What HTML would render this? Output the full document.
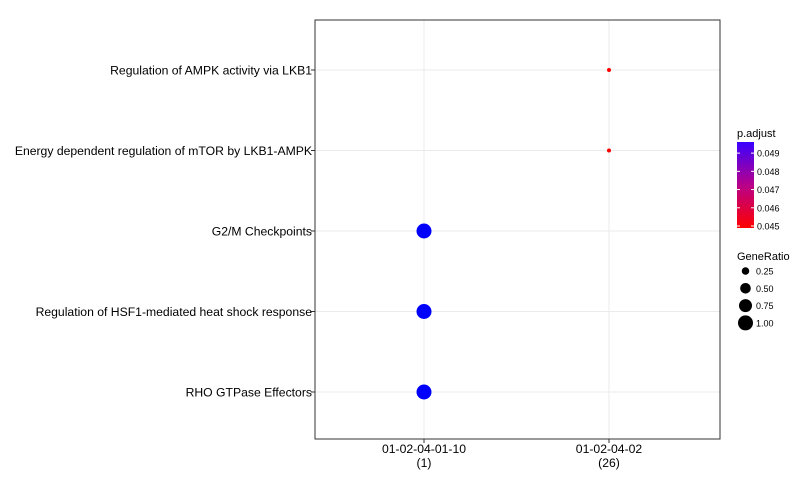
<!DOCTYPE html>
<html><head><meta charset="utf-8"><style>
body{margin:0;background:#fff;}
svg{display:block;font-family:"Liberation Sans",sans-serif;}
</style></head><body>
<svg id="c" width="800" height="480">
<defs><linearGradient id="g" x1="0" y1="1" x2="0" y2="0">
<stop offset="0" stop-color="#ff0000"/><stop offset="0.5" stop-color="#b8008a"/><stop offset="1" stop-color="#3a00ff"/></linearGradient></defs>
</svg>
<script>
const categories=["01-02-04-01-10","01-02-04-02"];
const catCounts=["(1)","(26)"];
const terms=["Regulation of AMPK activity via LKB1","Energy dependent regulation of mTOR by LKB1-AMPK","G2/M Checkpoints","Regulation of HSF1-mediated heat shock response","RHO GTPase Effectors"];
const pointCat=[1,1,0,0,0];
const geneRatio=[0.038,0.038,1,1,1];
const pAdjust=[0.045,0.045,0.0495,0.0495,0.0495];
const pTicks=[0.045,0.046,0.047,0.048,0.049];
const sizeTicks=[0.25,0.5,0.75,1.0];
const sizeLabels=["0.25","0.50","0.75","1.00"];

const svg=document.getElementById('c');const NS="http://www.w3.org/2000/svg";
function mk(t,a,p){const e=document.createElementNS(NS,t);for(const k in a)e.setAttribute(k,a[k]);(p||svg).appendChild(e);return e;}
const L=315,R=720,T=20,B=439;
const xPos=i=>424+i*(609-424);
const yPos=i=>70+i*((392-70)/(terms.length-1));
const rSize=v=>Math.max(2,7.5*Math.sqrt(v));
const pmin=0.045,pmax=0.0495;
function col(p){const t=Math.min(1,Math.max(0,(p-pmin)/(pmax-pmin)));const r=Math.round(255*(1-t)),b=Math.round(255*t);return `rgb(${r},0,${b})`;}
let e;
e=mk('rect',{x:L,y:T,width:R-L,height:B-T,fill:'#fff'});

categories.forEach((c,i)=>{e=mk('line',{x1:xPos(i),x2:xPos(i),y1:T,y2:B,stroke:'#ebebeb'});});
terms.forEach((t,i)=>{e=mk('line',{x1:L,x2:R,y1:yPos(i),y2:yPos(i),stroke:'#ebebeb'});});
e=mk('rect',{x:L,y:T,width:R-L,height:B-T,fill:'none',stroke:'#333','stroke-width':1});

terms.forEach((t,i)=>{
 e=mk('line',{x1:L-4,x2:L,y1:yPos(i),y2:yPos(i),stroke:'#333'});
 e=mk('text',{x:L-3,y:yPos(i)+4.5,'text-anchor':'end','font-size':12.2,fill:'#000'});e.textContent=t;
 
});
categories.forEach((c,i)=>{
 e=mk('line',{x1:xPos(i),x2:xPos(i),y1:B,y2:B+4,stroke:'#333'});
 e=mk('text',{x:xPos(i),y:453,'text-anchor':'middle','font-size':12.2});e.textContent=c;
 
 e=mk('text',{x:xPos(i),y:467,'text-anchor':'middle','font-size':12.2});e.textContent=catCounts[i];
 
});
terms.forEach((t,i)=>{
 e=mk('circle',{cx:xPos(pointCat[i]),cy:yPos(i),r:rSize(geneRatio[i]),fill:col(pAdjust[i])});
 
});
e=mk('text',{x:737,y:137,'font-size':11});e.textContent='p.adjust';
const cbT=142,cbB=228;
e=mk('rect',{x:737,y:cbT,width:17,height:cbB-cbT,fill:'url(#g)'});
const cy=p=>cbB-2-(p-pmin)/(pmax-pmin)*(cbB-cbT-4);
pTicks.forEach(p=>{
 e=mk('line',{x1:737,x2:740,y1:cy(p),y2:cy(p),stroke:'#fff'});
 e=mk('line',{x1:751,x2:754,y1:cy(p),y2:cy(p),stroke:'#fff'});
 e=mk('text',{x:757,y:cy(p)+3.5,'font-size':9});e.textContent=p.toFixed(3);
});
e=mk('text',{x:737,y:260,'font-size':11});e.textContent='GeneRatio';
sizeTicks.forEach((v,i)=>{
 const y=271+i*17.3;
 e=mk('circle',{cx:745.5,cy:y,r:rSize(v),fill:'#000'});
 e=mk('text',{x:756,y:y+3.5,'font-size':9});e.textContent=sizeLabels[i];
});
</script>
</body></html>
